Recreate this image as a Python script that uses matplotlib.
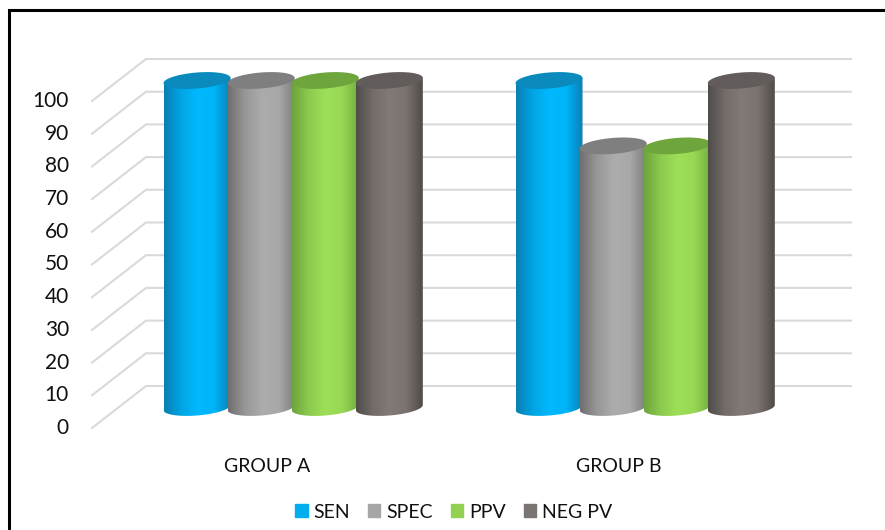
import numpy as np
import matplotlib
matplotlib.use("Agg")
import matplotlib.pyplot as plt
from matplotlib.colors import LinearSegmentedColormap
from matplotlib.lines import Line2D
from matplotlib.patches import Patch, PathPatch
from matplotlib.path import Path

groups = ["GROUP A", "GROUP B"]
series = ["SEN", "SPEC", "PPV", "NEG PV"]
group_a = [100, 100, 100, 100]
group_b = [100, 80, 80, 100]
ticks = list(range(0, 101, 10))

flat_colors = ["#00AEEF", "#A6A6A6", "#92D050", "#7A7573"]
top_colors = ["#0A8ABD", "#7F7F7F", "#6FA53D", "#625D5A"]
ramps = [
    ["#0A7FB3", "#00A5E3", "#00B9FF", "#00B4F8", "#0A80B4"],
    ["#6F6F6F", "#979797", "#ACACAC", "#A8A8A8", "#7C7C7C"],
    ["#6CA53C", "#8CCB4E", "#9EDF58", "#98D854", "#72AE40"],
    ["#4F4C4A", "#736C69", "#827A76", "#7A7370", "#4E4B49"],
]

# one x unit is one bar slot, one y unit is one percent on the bar plane
W, H = 885, 530
PX_PER_SLOT = 64.1
PX_PER_VAL = 3.27
BASE_Y = 407.5
FIRST_X = 197.0
GROUP_STEP = 352 / PX_PER_SLOT

# floor depth, in value units, from the bar plane to the wall and to the front edge
BACK = 21.5 / PX_PER_VAL
FRONT = -20.5 / PX_PER_VAL
WALL_L = (146 - FIRST_X) / PX_PER_SLOT
FRONT_L = (92 - FIRST_X) / PX_PER_SLOT
WALL_R = (851 - FIRST_X) / PX_PER_SLOT

# cylinder cross-section
A = 33.5 / PX_PER_SLOT
B = 8.0 / PX_PER_VAL
TILT = (2.6 / PX_PER_VAL) / A

fig = plt.figure(figsize=(W / 100, H / 100), dpi=100)
ax = fig.add_axes([0, 0, 1, 1])
ax.axis("off")

font = "Lato"
grid = "#D9D9D9"
ink = "#111111"

for v in ticks:
    ax.plot([FRONT_L, WALL_L, WALL_R], [v + FRONT, v + BACK, v + BACK],
            color=grid, lw=1.5, zorder=1, solid_joinstyle="miter")


def ellipse(cx, cy, t):
    dx = A * np.cos(t)
    return cx + dx, cy + B * np.sin(t) + TILT * dx


def draw_bar(cx, val, i, z):
    t_low = np.linspace(np.pi, 2 * np.pi, 60)
    xs, ys = ellipse(cx, 0, t_low)
    xs = np.r_[xs, cx + A, cx - A]
    ys = np.r_[ys, val + TILT * A, val - TILT * A]
    verts = np.c_[xs, ys]
    body = PathPatch(Path(np.r_[verts, verts[:1]]), fc="none", ec="none", zorder=z)
    ax.add_patch(body)
    cmap = LinearSegmentedColormap.from_list("c", ramps[i])
    grad = np.linspace(0, 1, 128).reshape(1, -1)
    im = ax.imshow(grad, cmap=cmap, extent=[cx - A, cx + A, -5, val + 5],
                   aspect="auto", zorder=z, interpolation="bilinear")
    im.set_clip_path(body)
    t_all = np.linspace(0, 2 * np.pi, 90)
    tx, ty = ellipse(cx, val, t_all)
    ax.fill(tx, ty, color=top_colors[i], lw=0, zorder=z + 0.5)


z = 3
for g, vals in enumerate([group_a, group_b]):
    for i, val in enumerate(vals):
        draw_bar(g * GROUP_STEP + i, val, i, z)
        z += 1

# imshow resets the limits, so they are set after the bars
ax.set_xlim(-FIRST_X / PX_PER_SLOT, (W - FIRST_X) / PX_PER_SLOT)
ax.set_ylim((BASE_Y - H) / PX_PER_VAL, BASE_Y / PX_PER_VAL)

# value labels along the front edge
for v in ticks:
    ax.text(FRONT_L - 0.36, v + FRONT, str(v), ha="right", va="center",
            fontsize=15, family=font, color=ink)

# group names under the bars
for g, name in enumerate(groups):
    ax.text(g * GROUP_STEP + 1.09, (BASE_Y - 466) / PX_PER_VAL, name, ha="center", va="center",
            fontsize=14, family=font, color=ink)

handles = [Patch(color=c, label=s) for c, s in zip(flat_colors, series)]
leg = ax.legend(handles=handles, ncol=4, loc="center", frameon=False,
                bbox_to_anchor=(454 / W, 1 - 512 / H),
                prop={"family": font, "size": 14}, handlelength=0.62, handleheight=0.62,
                handletextpad=0.3, columnspacing=0.95)
for t in leg.get_texts():
    t.set_color(ink)

# border runs along the left and top, and is cut off at the figure edges
fig.add_artist(Line2D([8.5 / W, 8.5 / W, 1], [0, 1 - 10 / H, 1 - 10 / H], color="black", lw=2.2,
                      solid_joinstyle="miter"))

fig.savefig("out.png", dpi=100)
